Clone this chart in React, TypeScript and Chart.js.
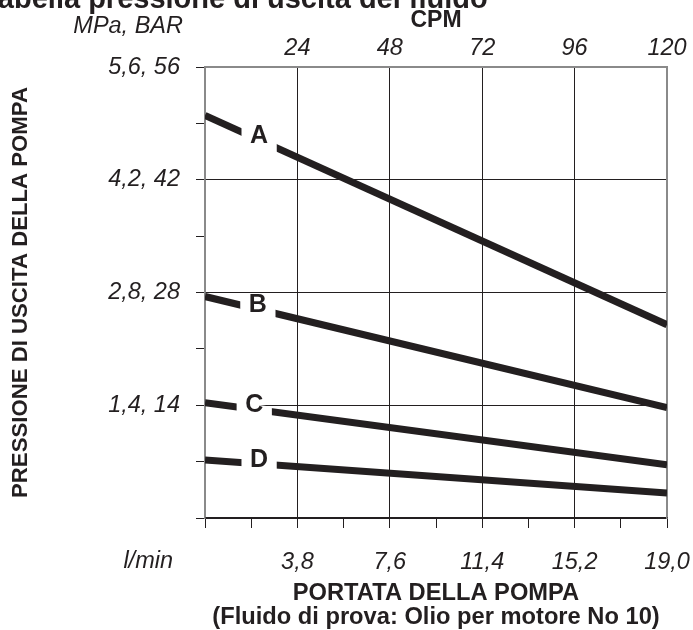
import React, { useEffect, useRef } from 'react';
import { Chart, registerables } from 'chart.js';

Chart.register(...registerables);

// ---- data ----
const flowLpm = [0, 19]; // l/min
const seriesNames = ['A', 'B', 'C', 'D'];
const pressureA = [5.0, 2.4]; // MPa
const pressureB = [2.75, 1.37];
const pressureC = [1.43, 0.66];
const pressureD = [0.72, 0.31];
const seriesValues = [pressureA, pressureB, pressureC, pressureD];

const flowTickLabels = ['3,8', '7,6', '11,4', '15,2', '19,0'];
const cpmTickLabels = ['24', '48', '72', '96', '120'];
const pressureTickLabels = ['1,4, 14', '2,8, 28', '4,2, 42', '5,6, 56'];

// ---- style ----
const INK = '#231f20';
const FRAME = '#8a8a8a';
const FONT = "'Liberation Sans', Arial, Helvetica, sans-serif";
// label gap along each line, in l/min
const LABEL_GAPS = [
  [1.5, 2.95],
  [1.45, 2.9],
  [1.3, 2.75],
  [1.5, 2.95],
];

const lineLabels = {
  id: 'lineLabels',
  afterDatasetsDraw(chart: any) {
    const ctx = chart.ctx;
    const xs = chart.scales.x;
    const ys = chart.scales.y;
    chart.data.datasets.forEach((ds: any, i: number) => {
      const pts = ds.data;
      const p0 = pts[0];
      const p1 = pts[pts.length - 1];
      const yAt = (v: number) => p0.y + ((p1.y - p0.y) * (v - p0.x)) / (p1.x - p0.x);
      const [g0, g1] = LABEL_GAPS[i];
      const x0 = xs.getPixelForValue(g0);
      const x1 = xs.getPixelForValue(g1);
      const y0 = ys.getPixelForValue(yAt(g0));
      const y1 = ys.getPixelForValue(yAt(g1));
      const ang = Math.atan2(y1 - y0, x1 - x0);
      const h = ds.borderWidth / 2 / Math.cos(ang) + 1.5;
      ctx.save();
      ctx.fillStyle = '#ffffff';
      ctx.beginPath();
      ctx.moveTo(x0, y0 - h);
      ctx.lineTo(x1, y1 - h);
      ctx.lineTo(x1, y1 + h);
      ctx.lineTo(x0, y0 + h);
      ctx.closePath();
      ctx.fill();
      ctx.fillStyle = INK;
      ctx.font = `bold 25px ${FONT}`;
      ctx.textAlign = 'center';
      ctx.textBaseline = 'middle';
      ctx.fillText(ds.label, (x0 + x1) / 2, (y0 + y1) / 2 - 4);
      ctx.restore();
    });
  },
};

const extraText = {
  id: 'extraText',
  afterDraw(chart: any) {
    const ctx = chart.ctx;
    ctx.save();
    ctx.fillStyle = INK;
    ctx.font = `italic 23.5px ${FONT}`;
    ctx.textAlign = 'right';
    ctx.textBaseline = 'middle';
    ctx.fillText('MPa, BAR', 183, 26);
    ctx.fillText('l/min', 173, 561);
    ctx.font = `bold 29px ${FONT}`;
    ctx.textAlign = 'left';
    ctx.textBaseline = 'alphabetic';
    ctx.fillText('Tabella pressione di uscita del fluido', -17.7, 8);
    ctx.restore();
  },
};

const fixH = (h: number) => (s: any) => {
  s.height = h;
  s.paddingLeft = 0;
  s.paddingRight = 0;
  s.paddingTop = 0;
  s.paddingBottom = 0;
};
const fixW = (w: number) => (s: any) => {
  s.width = w;
  s.paddingLeft = 0;
  s.paddingRight = 0;
  s.paddingTop = 0;
  s.paddingBottom = 0;
};

export default function App() {
  const ref = useRef<HTMLCanvasElement>(null);

  useEffect(() => {
    const tickFont = { family: FONT, size: 23.5, style: 'italic' as const };
    const chart = new Chart(ref.current as HTMLCanvasElement, {
      type: 'line',
      data: {
        datasets: seriesNames.map((name, k) => ({
          label: name,
          data: flowLpm.map((x, j) => ({ x, y: seriesValues[k][j] })),
          borderColor: INK,
          backgroundColor: INK,
          borderWidth: 7,
          pointRadius: 0,
          borderCapStyle: 'butt' as const,
          tension: 0,
          xAxisID: 'x',
          yAxisID: 'y',
        })),
      },
      options: {
        animation: false,
        responsive: false,
        maintainAspectRatio: false,
        layout: { padding: 0 },
        plugins: {
          legend: { display: false },
          tooltip: { enabled: false },
          title: { display: false },
        },
        scales: {
          x: {
            type: 'linear',
            position: 'bottom',
            min: 0,
            max: 19,
            afterFit: fixH(112),
            ticks: {
              stepSize: 1.9,
              autoSkip: false,
              maxRotation: 0,
              padding: 20,
              color: INK,
              font: tickFont,
              callback: (_v: any, i: number) =>
                i % 2 === 0 && i > 0 ? flowTickLabels[i / 2 - 1] : '',
            },
            grid: {
              color: (c: any) =>
                c.index % 2 ? 'rgba(0,0,0,0)' : c.index === 0 || c.index === 10 ? FRAME : INK,
              tickColor: INK,
              tickLength: 10,
              lineWidth: 1,
            },
            border: { color: INK, width: 1.5 },
            title: {
              display: true,
              text: ['PORTATA DELLA POMPA', '(Fluido di prova: Olio per motore No 10)'],
              color: INK,
              font: { family: FONT, size: 23.7, weight: 'bold', lineHeight: '24px' },
              padding: { top: 0, bottom: 1 },
            },
          },
          y: {
            type: 'linear',
            position: 'left',
            min: 0,
            max: 5.6,
            afterFit: fixW(205),
            ticks: {
              stepSize: 0.7,
              autoSkip: false,
              padding: 16,
              color: INK,
              font: tickFont,
              callback: (_v: any, i: number) =>
                i % 2 === 0 && i > 0 ? pressureTickLabels[i / 2 - 1] : '',
            },
            grid: {
              color: (c: any) =>
                c.index % 2 ? 'rgba(0,0,0,0)' : c.index === 8 ? FRAME : INK,
              tickColor: INK,
              tickLength: 9,
              lineWidth: 1,
            },
            border: { color: FRAME, width: 1.5 },
            title: {
              display: true,
              text: 'PRESSIONE DI USCITA DELLA POMPA',
              color: INK,
              font: { family: FONT, size: 22.2, weight: 'bold' },
              padding: { top: 8, bottom: 0 },
            },
          },
          x2: {
            type: 'linear',
            position: 'top',
            min: 0,
            max: 120,
            afterFit: fixH(67),
            ticks: {
              stepSize: 24,
              autoSkip: false,
              maxRotation: 0,
              padding: 4,
              color: INK,
              font: tickFont,
              callback: (_v: any, i: number) => (i > 0 ? cpmTickLabels[i - 1] : ''),
            },
            grid: { display: false, drawTicks: false, tickLength: 0 },
            border: { color: FRAME, width: 1.5 },
            title: {
              display: true,
              text: 'CPM',
              color: INK,
              font: { family: FONT, size: 23, weight: 'bold' },
              padding: { top: 7, bottom: 0 },
            },
          },
          y2: {
            type: 'linear',
            position: 'right',
            min: 0,
            max: 5.6,
            afterFit: fixW(26),
            ticks: { display: false },
            grid: { display: false, drawTicks: false, tickLength: 0 },
            border: { color: FRAME, width: 1.5 },
          },
        },
      } as any,
      plugins: [lineLabels, extraText],
    });
    return () => chart.destroy();
  }, []);

  return (
    <div
      style={{
        position: 'fixed',
        left: 0,
        top: 0,
        width: 693,
        height: 630,
        background: '#ffffff',
      }}
    >
      <canvas ref={ref} width={693} height={630} style={{ display: 'block', width: 693, height: 630 }} />
    </div>
  );
}
